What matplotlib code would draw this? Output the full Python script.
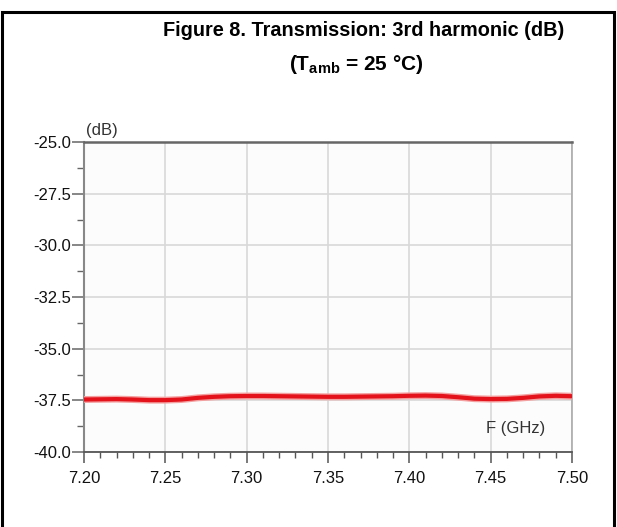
import numpy as np
import matplotlib
matplotlib.use('Agg')
import matplotlib.pyplot as plt
from matplotlib.ticker import MultipleLocator, FormatStrFormatter
from matplotlib.patches import Rectangle

# --- data ---
freq_ghz = [7.20, 7.21, 7.22, 7.23, 7.24, 7.25, 7.26, 7.27, 7.28, 7.29, 7.30,
            7.31, 7.32, 7.33, 7.34, 7.35, 7.36, 7.37, 7.38, 7.39, 7.40,
            7.41, 7.42, 7.43, 7.44, 7.45, 7.46, 7.47, 7.48, 7.49, 7.50]
h3_db = [-37.46, -37.45, -37.44, -37.46, -37.49, -37.49, -37.46, -37.38, -37.33, -37.30, -37.29,
         -37.29, -37.30, -37.31, -37.32, -37.33, -37.33, -37.32, -37.31, -37.30, -37.28,
         -37.27, -37.29, -37.35, -37.42, -37.44, -37.43, -37.38, -37.31, -37.28, -37.30]

title_1 = 'Figure 8. Transmission: 3rd harmonic (dB)'
title_2 = r'(T$_{\mathbf{amb}}$ = 25 °C)'

plt.rcParams['font.family'] = ['Liberation Sans', 'DejaVu Sans']
plt.rcParams['mathtext.fontset'] = 'custom'
plt.rcParams['mathtext.rm'] = 'Liberation Sans'
plt.rcParams['mathtext.bf'] = 'Liberation Sans:bold'

fig = plt.figure(figsize=(6.17, 5.27), dpi=100)
ax = fig.add_axes([84/617, (527-452)/527, (572-84)/617, (452-142)/527])
ax.set_facecolor('#fcfcfc')

# red trace with light halo
ax.plot(freq_ghz, h3_db, color='#f4a0a0', lw=5.0, solid_capstyle='butt', zorder=3)
ax.plot(freq_ghz, h3_db, color='#e3121b', lw=3.0, solid_capstyle='butt', zorder=4)

ax.set_xlim(7.20, 7.50)
ax.set_ylim(-40.0, -25.0)
ax.xaxis.set_major_locator(MultipleLocator(0.05))
ax.xaxis.set_minor_locator(MultipleLocator(0.01))
ax.yaxis.set_major_locator(MultipleLocator(2.5))
ax.yaxis.set_minor_locator(MultipleLocator(1.25))
ax.xaxis.set_major_formatter(FormatStrFormatter('%.2f'))
ax.yaxis.set_major_formatter(FormatStrFormatter('%.1f'))

ax.grid(True, which='major', color='#d9d9d9', lw=1.2)
ax.set_axisbelow(True)

ax.tick_params(axis='x', which='major', direction='out', length=8, width=1.1,
               color='#555555', labelsize=12, pad=6, labelcolor='#111111')
ax.tick_params(axis='x', which='minor', direction='out', length=4, width=1.0, color='#555555')
ax.tick_params(axis='y', which='major', direction='out', length=9, width=1.1,
               color='#666666', labelsize=12, pad=0, labelcolor='#111111')
ax.tick_params(axis='y', which='minor', direction='out', length=5, width=1.0, color='#666666')

ax.spines['top'].set_color('#666666')
ax.spines['top'].set_linewidth(1.8)
ax.spines['bottom'].set_color('#555555')
ax.spines['bottom'].set_linewidth(1.3)
ax.spines['left'].set_color('#888888')
ax.spines['left'].set_linewidth(1.5)
ax.spines['right'].set_color('#aaaaaa')
ax.spines['right'].set_linewidth(1.2)

ax.text(0.004, 1.012, '(dB)', transform=ax.transAxes, fontsize=12,
        color='#333333', ha='left', va='bottom')
ax.text(0.885, 0.075, 'F (GHz)', transform=ax.transAxes, fontsize=12,
        color='#333333', ha='center', va='center')

# outer black frame (open at the bottom of the picture)
fig.add_artist(Rectangle((2/617, -0.05), 612/617, 1.05 - 12/527, transform=fig.transFigure,
                         fill=False, edgecolor='black', lw=2.2, clip_on=False))

fig.text(364/617, 1 - 31/527, title_1, ha='center', va='center', fontsize=14.3, fontweight='bold')
fig.text(356/617, 1 - 65/527, title_2, ha='center', va='center', fontsize=15, fontweight='bold')

fig.savefig('out.png', dpi=100)
